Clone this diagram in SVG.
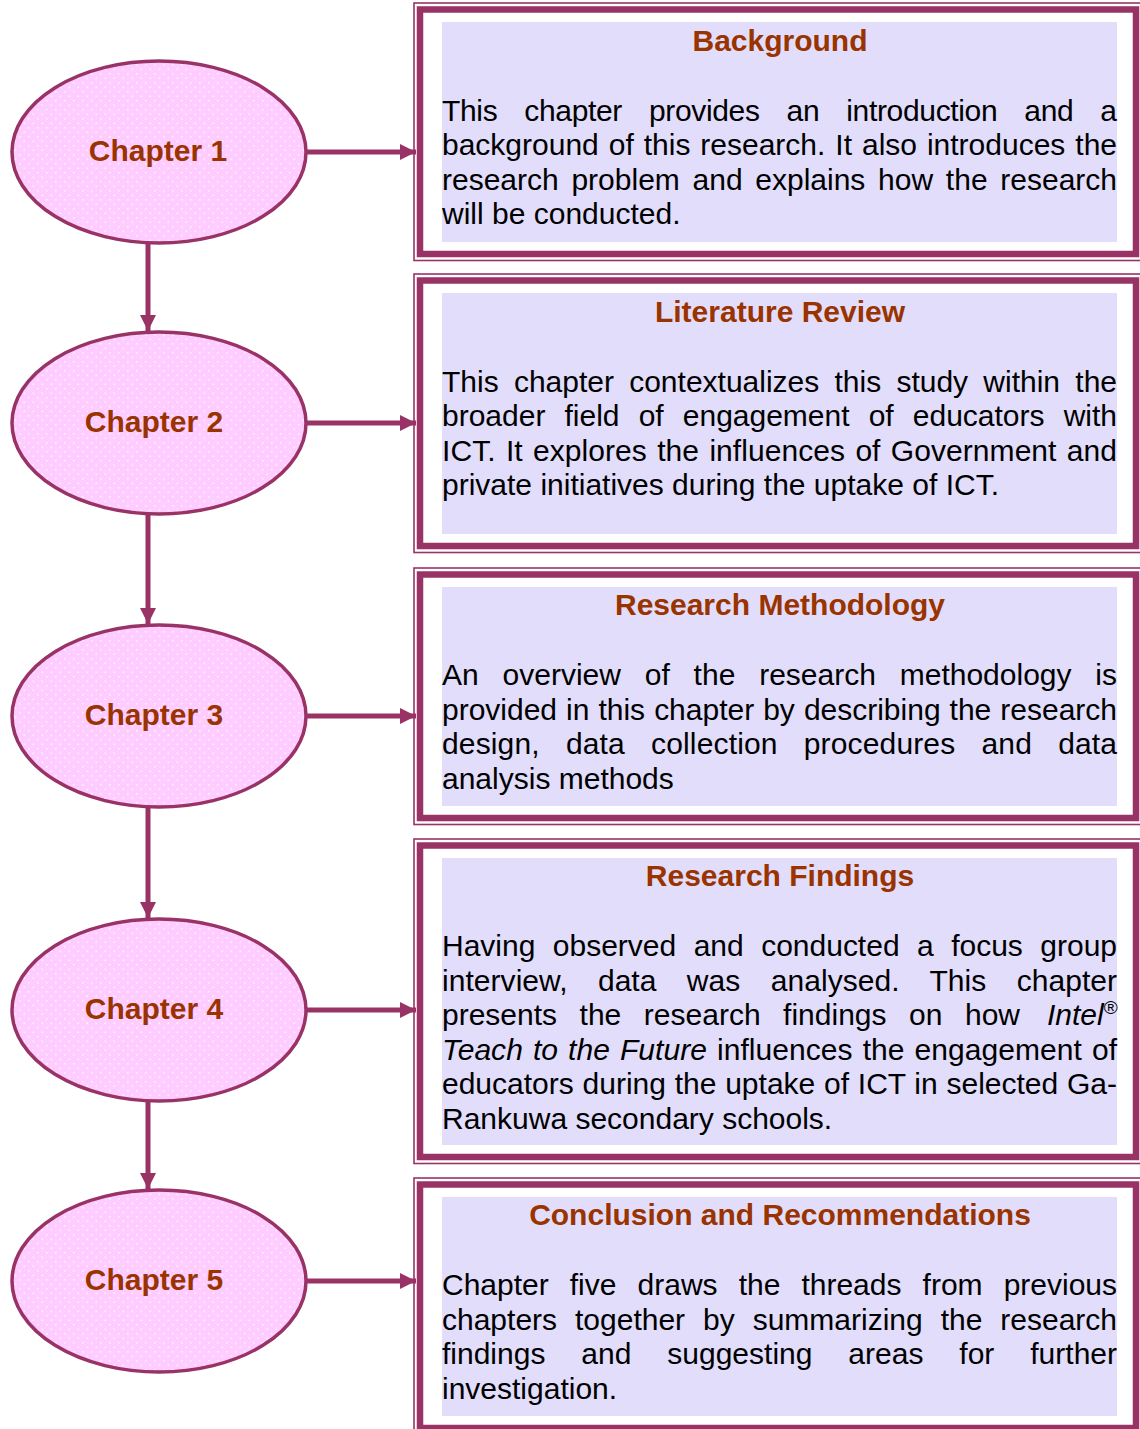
<svg xmlns="http://www.w3.org/2000/svg" width="1140" height="1429" viewBox="0 0 1140 1429">
<defs>
<pattern id="dots" width="9" height="9" patternUnits="userSpaceOnUse">
<rect width="9" height="9" fill="#FFCCFF"/>
<rect x="1" y="1" width="1.6" height="1.6" fill="#FFF0FF"/>
<rect x="5.5" y="5.5" width="1.6" height="1.6" fill="#FFF0FF"/>
</pattern>
<marker id="ah" markerUnits="userSpaceOnUse" markerWidth="17" markerHeight="17" refX="16" refY="8" orient="auto">
<path d="M0,0 L16,8 L0,16 z" fill="#993366"/>
</marker>
<style>
.ell{fill:url(#dots);stroke:#993366;stroke-width:3.5}
.thin{fill:none;stroke:#993366;stroke-width:1.6}
.thick{fill:#fff;stroke:#993366;stroke-width:6.5}
.lav{fill:#E1DDFA}
.cl{font-family:"Liberation Sans",Arial,sans-serif;font-size:30px;font-weight:bold;fill:#993300;text-anchor:middle}
.tt{font-family:"Liberation Sans",Arial,sans-serif;font-size:30px;font-weight:bold;fill:#993300;text-anchor:middle}
.bd{font-family:"Liberation Sans",Arial,sans-serif;font-size:30px;fill:#000}
.it{font-style:italic}
.con{fill:none;stroke:#993366;stroke-width:5;marker-end:url(#ah)}
</style>
</defs>
<rect width="1140" height="1429" fill="#fff"/>

<g id="connectors">
<line class="con" x1="307" y1="152" x2="416" y2="152"/>
<line class="con" x1="307" y1="423" x2="416" y2="423"/>
<line class="con" x1="307" y1="716" x2="416" y2="716"/>
<line class="con" x1="307" y1="1010" x2="416" y2="1010"/>
<line class="con" x1="307" y1="1281" x2="416" y2="1281"/>
<line class="con" x1="148" y1="241" x2="148" y2="331"/>
<line class="con" x1="148" y1="512" x2="148" y2="624"/>
<line class="con" x1="148" y1="805" x2="148" y2="918"/>
<line class="con" x1="148" y1="1099" x2="148" y2="1189"/>
</g>

<g id="chapter1"><ellipse class="ell" cx="159" cy="152" rx="147" ry="91"/><text class="cl" x="158" y="161">Chapter 1</text></g>
<g id="chapter2"><ellipse class="ell" cx="159" cy="423" rx="147" ry="91"/><text class="cl" x="154" y="432">Chapter 2</text></g>
<g id="chapter3"><ellipse class="ell" cx="159" cy="716" rx="147" ry="91"/><text class="cl" x="154" y="725">Chapter 3</text></g>
<g id="chapter4"><ellipse class="ell" cx="159" cy="1010" rx="147" ry="91"/><text class="cl" x="154" y="1019">Chapter 4</text></g>
<g id="chapter5"><ellipse class="ell" cx="159" cy="1281" rx="147" ry="91"/><text class="cl" x="154" y="1290">Chapter 5</text></g>

<g id="box1">
<rect class="thin" x="414" y="3" width="740" height="257.5"/>
<rect class="thick" x="420" y="9.5" width="716" height="244.5"/>
<rect class="lav" x="442" y="22" width="675" height="220"/>
<text class="tt" x="780" y="51">Background</text>
<text class="bd" x="442" y="121" word-spacing="19" textLength="675" lengthAdjust="spacing">This chapter provides an introduction and a</text>
<text class="bd" x="442" y="155" word-spacing="1.6" textLength="675" lengthAdjust="spacing">background of this research. It also introduces the</text>
<text class="bd" x="442" y="190" word-spacing="4.4" textLength="675" lengthAdjust="spacing">research problem and explains how the research</text>
<text class="bd" x="442" y="224">will be conducted.</text>
</g>

<g id="box2">
<rect class="thin" x="414" y="274" width="740" height="278.5"/>
<rect class="thick" x="420" y="280.5" width="716" height="265.5"/>
<rect class="lav" x="442" y="293" width="675" height="241"/>
<text class="tt" x="780" y="322">Literature Review</text>
<text class="bd" x="442" y="392" word-spacing="6.9" textLength="675" lengthAdjust="spacing">This chapter contextualizes this study within the</text>
<text class="bd" x="442" y="426" word-spacing="10.8" textLength="675" lengthAdjust="spacing">broader field of engagement of educators with</text>
<text class="bd" x="442" y="461" word-spacing="1.9" textLength="675" lengthAdjust="spacing">ICT. It explores the influences of Government and</text>
<text class="bd" x="442" y="495">private initiatives during the uptake of ICT.</text>
</g>

<g id="box3">
<rect class="thin" x="414" y="568" width="740" height="256.5"/>
<rect class="thick" x="420" y="574.5" width="716" height="243.5"/>
<rect class="lav" x="442" y="587" width="675" height="219"/>
<text class="tt" x="780" y="615">Research Methodology</text>
<text class="bd" x="442" y="685" word-spacing="15.5" textLength="675" lengthAdjust="spacing">An overview of the research methodology is</text>
<text class="bd" x="442" y="720" word-spacing="0.7" textLength="675" lengthAdjust="spacing">provided in this chapter by describing the research</text>
<text class="bd" x="442" y="754" word-spacing="17.7" textLength="675" lengthAdjust="spacing">design, data collection procedures and data</text>
<text class="bd" x="442" y="789">analysis methods</text>
</g>

<g id="box4">
<rect class="thin" x="414" y="839" width="740" height="324.5"/>
<rect class="thick" x="420" y="845.5" width="716" height="311.5"/>
<rect class="lav" x="442" y="858" width="675" height="287"/>
<text class="tt" x="780" y="886">Research Findings</text>
<text class="bd" x="442" y="956" word-spacing="9.1" textLength="675" lengthAdjust="spacing">Having observed and conducted a focus group</text>
<text class="bd" x="442" y="991" word-spacing="22" textLength="675" lengthAdjust="spacing">interview, data was analysed. This chapter</text>
<text class="bd" x="442" y="1025" word-spacing="14.2" textLength="578" lengthAdjust="spacing">presents the research findings on how</text>
<text class="bd it" x="1047" y="1025">Intel<tspan style="font-style:normal;font-size:19px" dy="-11">®</tspan></text>
<text class="bd" x="442" y="1060" word-spacing="1.6" textLength="675" lengthAdjust="spacing"><tspan class="it">Teach to the Future</tspan> influences the engagement of</text>
<text class="bd" x="442" y="1094" word-spacing="0.4" textLength="675" lengthAdjust="spacing">educators during the uptake of ICT in selected Ga-</text>
<text class="bd" x="442" y="1129">Rankuwa secondary schools.</text>
</g>

<g id="box5">
<rect class="thin" x="414" y="1178" width="740" height="256.5"/>
<rect class="thick" x="420" y="1184.5" width="716" height="243.5"/>
<rect class="lav" x="442" y="1197" width="675" height="219"/>
<text class="tt" x="780" y="1225">Conclusion and Recommendations</text>
<text class="bd" x="442" y="1295" word-spacing="12.8" textLength="675" lengthAdjust="spacing">Chapter five draws the threads from previous</text>
<text class="bd" x="442" y="1330" word-spacing="9.6" textLength="675" lengthAdjust="spacing">chapters together by summarizing the research</text>
<text class="bd" x="442" y="1364" word-spacing="27.6" textLength="675" lengthAdjust="spacing">findings and suggesting areas for further</text>
<text class="bd" x="442" y="1399">investigation.</text>
</g>
</svg>
